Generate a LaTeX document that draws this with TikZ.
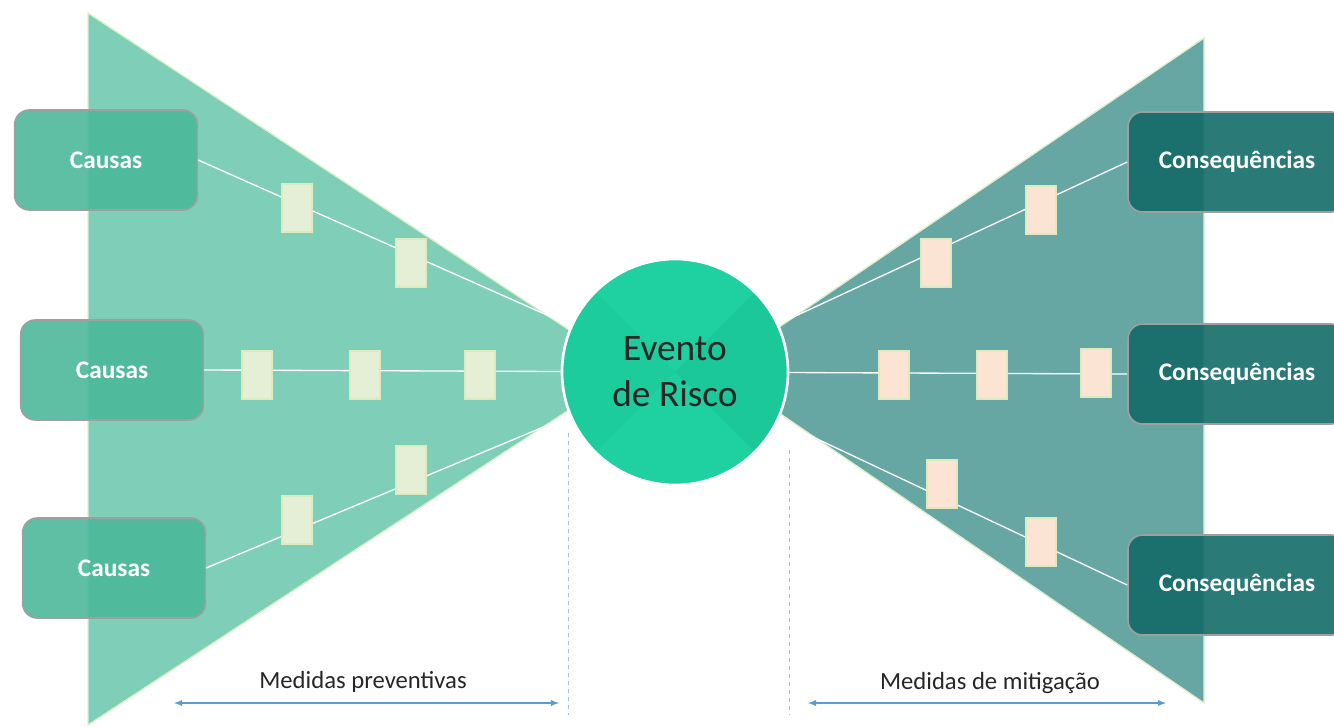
\documentclass[tikz,border=0pt]{standalone}
\usepackage{fontspec}
\setmainfont{Carlito}
\usepackage{tikz}

\definecolor{verdeclaro}{HTML}{7ECEB8}
\definecolor{verdeescuro}{HTML}{66A6A3}
\definecolor{caixaverde}{HTML}{4CB89B}
\definecolor{caixateal}{HTML}{136B68}
\definecolor{evento}{HTML}{1FD0A0}
\definecolor{eventoE}{HTML}{1DCC9D}
\definecolor{eventoD}{HTML}{1AC899}
\definecolor{creme}{HTML}{E4EFD6}
\definecolor{pessego}{HTML}{FBE4D4}
\definecolor{bordabar}{HTML}{DCEAC0}
\definecolor{azul}{HTML}{5B9BD5}
\definecolor{azulclaro}{HTML}{9DC3E6}
\definecolor{bordatri}{HTML}{DDF0CC}

\tikzset{
	causa/.style={draw=gray!75, line width=1.2pt, fill=caixaverde, fill opacity=0.9, text opacity=1,
		rounded corners=11pt, minimum width=137pt, minimum height=75pt, text=white,
		font=\fontsize{19}{22}\selectfont\bfseries},
	consequencia/.style={causa, fill=caixateal, minimum width=163.5pt},
	linha/.style={white, line width=1pt},
	barreiraE/.style={draw=bordabar, fill=creme, line width=1.2pt, minimum width=22.5pt, minimum height=36pt, inner sep=0pt},
	barreiraD/.style={barreiraE, fill=pessego},
	tracejado/.style={azulclaro, dashed, line width=0.7pt},
	seta/.style={azul, latex-latex, line width=1.1pt},
	rotulo/.style={font=\fontsize{18.5}{22}\selectfont, text=black!85}
}

\begin{document}
\begin{tikzpicture}[x=0.75pt, y=-0.75pt]
	\useasboundingbox (0,0) rectangle (1334,727);
	% triangulos
	\draw[fill=verdeclaro, draw=bordatri, line width=1pt] (88,13) -- (88,725) -- (630,370) -- cycle;
	\draw[fill=verdeescuro, draw=bordatri, line width=1pt] (1204,38) -- (1204,703) -- (716,370) -- cycle;
	% caixas
	\node[causa] (c1) at (106,160) {Causas};
	\node[causa] (c2) at (112,370) {Causas};
	\node[causa] (c3) at (114,568) {Causas};
	\node[consequencia] (k1) at (1237,162) {Consequências};
	\node[consequencia] (k2) at (1237,374) {Consequências};
	\node[consequencia] (k3) at (1237,585) {Consequências};
	% evento
	\node[circle, draw=white, line width=2pt, fill=evento, minimum size=169.5pt, align=center,
		font=\fontsize{28}{34.5}\selectfont, text=black!85,
		path picture={
			\fill[eventoE] (path picture bounding box.north west) -- (path picture bounding box.center)
				-- (path picture bounding box.south west) -- cycle;
			\fill[eventoD] (path picture bounding box.north east) -- (path picture bounding box.center)
				-- (path picture bounding box.south east) -- cycle;
		}] (risco) at (675,372) {Evento\\de Risco};
	\foreach \a in {c1,c2,c3}
		\draw[linha] (\a.east) -- (risco);
	\foreach \b in {k1,k2,k3}
		\draw[linha] (risco) -- (\b.west);
	% barreiras
	\foreach \x/\y [count=\i] in {297/208, 411/263, 257/375, 365/375, 480/375, 411/470, 297/520}
		\node[barreiraE] (e\i) at (\x,\y) {};
	\foreach \x/\y [count=\i] in {1041/210, 936/263, 894/375, 992/375, 1096/373, 942/484, 1041/542}
		\node[barreiraD] (d\i) at (\x,\y) {};
	% medidas
	\draw[tracejado] (568,433) -- (568,715);
	\draw[tracejado] (789,450) -- (789,715);
	\coordinate (p1) at (174,703);
	\coordinate (p2) at (559,703);
	\coordinate (m1) at (808,703);
	\coordinate (m2) at (1166,703);
	\draw[seta] (p1) -- (p2);
	\draw[seta] (m1) -- (m2);
	\node[rotulo] (prev) at (363,682) {Medidas preventivas};
	\node[rotulo] (mitig) at (990,683) {Medidas de mitigação};
\end{tikzpicture}
\end{document}
